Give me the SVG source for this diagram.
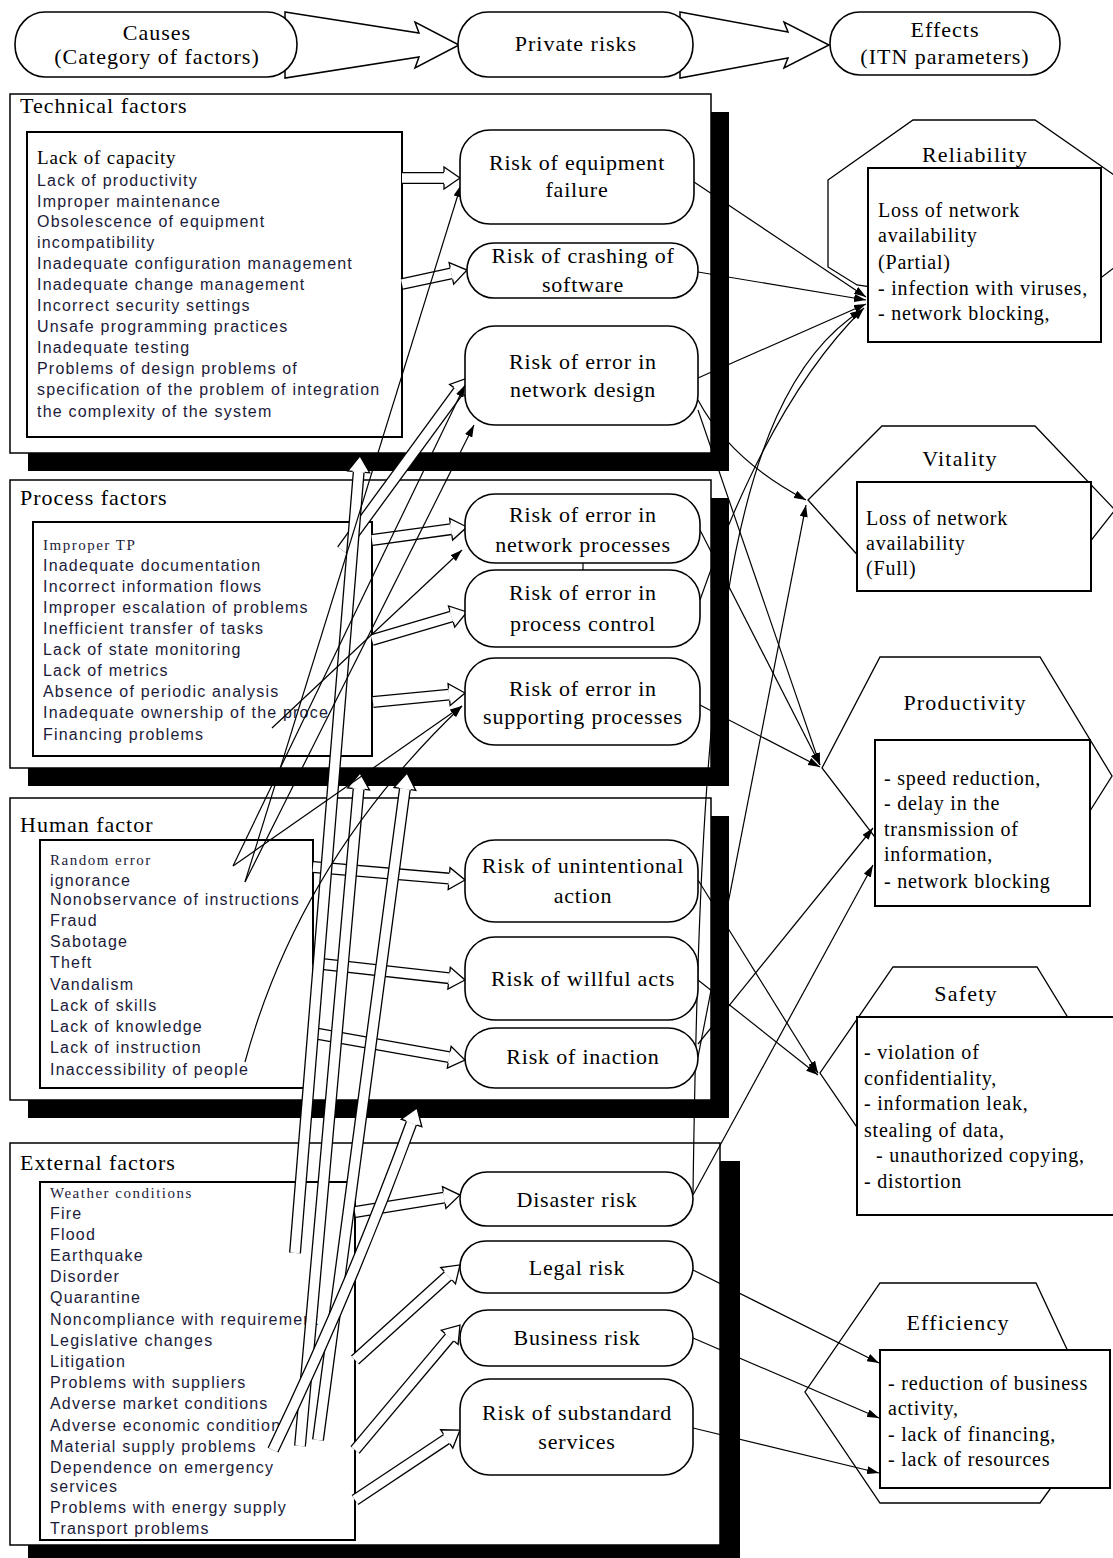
<svg xmlns="http://www.w3.org/2000/svg" width="1113" height="1558" viewBox="0 0 1113 1558">
<style>
.bg{fill:#fff}
.ser{font-family:"Liberation Serif","Times New Roman",serif;fill:#000}
.hd{font-size:22px;letter-spacing:1px}
.rk{font-size:22px;letter-spacing:0.8px;text-anchor:middle}
.ttl{font-size:22px;letter-spacing:1px}
.ef{font-size:20px;letter-spacing:0.8px}
.eft{font-size:22px;letter-spacing:1.2px;text-anchor:middle}
.sm{font-size:15px;letter-spacing:1.5px;fill:#1b1b3a}
.li{font-family:"Liberation Sans",Arial,sans-serif;font-size:16px;letter-spacing:1.2px;fill:#1b1b3a}
.box{fill:#fff;stroke:#000;stroke-width:1.5}
.inb{fill:#fff;stroke:#000;stroke-width:2}
.sh{fill:#000}
.rn{fill:#fff;stroke:#000;stroke-width:1.6}
.eo{fill:#fff;stroke:#000;stroke-width:1.3}
.hb{fill:none;stroke:#000;stroke-width:12}
.hw{fill:none;stroke:#fff;stroke-width:9.4}
.tl{fill:none;stroke:#000;stroke-width:1.2}
.ba{fill:#fff;stroke:#000;stroke-width:1.5}
</style>
<defs>
<marker id="ha" markerUnits="userSpaceOnUse" viewBox="0 0 17 24" markerWidth="17" markerHeight="24" refX="0" refY="12" orient="auto" overflow="visible">
<path d="M0,6 L0,1 L16,12 L0,23 L0,18" fill="#fff" stroke="#000" stroke-width="1.3"/>
</marker>
<marker id="ta" markerUnits="userSpaceOnUse" viewBox="0 0 12 8" markerWidth="12" markerHeight="8" refX="12" refY="4" orient="auto">
<path d="M0,0 L12,4 L0,8 z" fill="#000"/>
</marker>
</defs>
<rect class="bg" x="0" y="0" width="1113" height="1558"/>

<!-- header -->
<g id="header-arrows">
<polygon class="ba" points="285,12 419,33 415,22 459,45 415,68 419,57 285,78"/>
<polygon class="ba" points="680,12 788,32 784,22 829,45 784,68 788,58 680,78"/>
</g>
<g id="node-causes">
<rect class="rn" x="15" y="12" width="282" height="65" rx="30" ry="32"/>
<text class="ser hd" x="157" y="40" text-anchor="middle">Causes</text>
<text class="ser hd" x="157" y="64" text-anchor="middle">(Category of factors)</text>
</g>
<g id="node-private-risks">
<rect class="rn" x="458" y="12" width="235" height="65" rx="30" ry="32"/>
<text class="ser hd" x="576" y="51" text-anchor="middle">Private risks</text>
</g>
<g id="node-effects">
<rect class="rn" x="830" y="12" width="230" height="63" rx="30" ry="31"/>
<text class="ser hd" x="945" y="37" text-anchor="middle">Effects</text>
<text class="ser hd" x="945" y="64" text-anchor="middle">(ITN parameters)</text>
</g>

<!-- Technical factors -->
<g id="sec-technical">
<rect class="sh" x="28" y="112" width="701" height="359"/>
<rect class="box" x="10" y="94" width="701" height="359"/>
<text class="ser ttl" x="20" y="113">Technical factors</text>
<rect class="inb" x="27" y="132" width="375" height="305"/>
<text class="ser" x="37" y="164" style="font-size:19px;letter-spacing:0.8px">Lack of capacity</text>
<text class="li" x="37" y="186">Lack of productivity</text>
<text class="li" x="37" y="207">Improper maintenance</text>
<text class="li" x="37" y="227">Obsolescence of equipment</text>
<text class="li" x="37" y="248">incompatibility</text>
<text class="li" x="37" y="269">Inadequate configuration management</text>
<text class="li" x="37" y="290">Inadequate change management</text>
<text class="li" x="37" y="311">Incorrect security settings</text>
<text class="li" x="37" y="332">Unsafe programming practices</text>
<text class="li" x="37" y="353">Inadequate testing</text>
<text class="li" x="37" y="374">Problems of design problems of</text>
<text class="li" x="37" y="395">specification of the problem of integration</text>
<text class="li" x="37" y="417">the complexity of the system</text>
</g>

<!-- Process factors -->
<g id="sec-process">
<rect class="sh" x="28" y="498" width="701" height="288"/>
<rect class="box" x="10" y="480" width="701" height="288"/>
<text class="ser ttl" x="20" y="505">Process factors</text>
<rect class="inb" x="33" y="522" width="339" height="234"/>
<text class="ser sm" x="43" y="550">Improper TP</text>
<text class="li" x="43" y="571">Inadequate documentation</text>
<text class="li" x="43" y="592">Incorrect information flows</text>
<text class="li" x="43" y="613">Improper escalation of problems</text>
<text class="li" x="43" y="634">Inefficient transfer of tasks</text>
<text class="li" x="43" y="655">Lack of state monitoring</text>
<text class="li" x="43" y="676">Lack of metrics</text>
<text class="li" x="43" y="697">Absence of periodic analysis</text>
<text class="li" x="43" y="718">Inadequate ownership of the proce</text>
<text class="li" x="43" y="740">Financing problems</text>
</g>

<!-- Human factor -->
<g id="sec-human">
<rect class="sh" x="28" y="816" width="701" height="302"/>
<rect class="box" x="10" y="798" width="701" height="302"/>
<text class="ser ttl" x="20" y="832">Human factor</text>
<rect class="inb" x="40" y="840" width="273" height="248"/>
<text class="ser sm" x="50" y="865">Random error</text>
<text class="li" x="50" y="886">ignorance</text>
<text class="li" x="50" y="905">Nonobservance of instructions</text>
<text class="li" x="50" y="926">Fraud</text>
<text class="li" x="50" y="947">Sabotage</text>
<text class="li" x="50" y="968">Theft</text>
<text class="li" x="50" y="990">Vandalism</text>
<text class="li" x="50" y="1011">Lack of skills</text>
<text class="li" x="50" y="1032">Lack of knowledge</text>
<text class="li" x="50" y="1053">Lack of instruction</text>
<text class="li" x="50" y="1075">Inaccessibility of people</text>
</g>

<!-- External factors -->
<g id="sec-external">
<rect class="sh" x="28" y="1161" width="712" height="410"/>
<rect class="box" x="10" y="1143" width="710" height="402"/>
<text class="ser ttl" x="20" y="1170">External factors</text>
<rect class="inb" x="40" y="1182" width="315" height="358"/>
<text class="ser sm" x="50" y="1198">Weather conditions</text>
<text class="li" x="50" y="1219">Fire</text>
<text class="li" x="50" y="1240">Flood</text>
<text class="li" x="50" y="1261">Earthquake</text>
<text class="li" x="50" y="1282">Disorder</text>
<text class="li" x="50" y="1303">Quarantine</text>
<text class="li" x="50" y="1325">Noncompliance with requirement</text>
<text class="li" x="50" y="1346">Legislative changes</text>
<text class="li" x="50" y="1367">Litigation</text>
<text class="li" x="50" y="1388">Problems with suppliers</text>
<text class="li" x="50" y="1409">Adverse market conditions</text>
<text class="li" x="50" y="1431">Adverse economic condition</text>
<text class="li" x="50" y="1452">Material supply problems</text>
<text class="li" x="50" y="1473">Dependence on emergency</text>
<text class="li" x="50" y="1492">services</text>
<text class="li" x="50" y="1513">Problems with energy supply</text>
<text class="li" x="50" y="1534">Transport problems</text>
</g>

<!-- effect nodes -->
<g id="effect-reliability">
<polygon class="eo" points="828,180 913,120 1035,120 1150,200 1150,240 1102,277 960,300 857,285 828,267"/>
<text class="ser eft" x="975" y="162">Reliability</text>
<rect class="inb" x="868" y="168" width="233" height="174"/>
<text class="ser ef" x="878" y="217">Loss of network</text>
<text class="ser ef" x="878" y="242">availability</text>
<text class="ser ef" x="878" y="269">(Partial)</text>
<text class="ser ef" x="878" y="295">- infection with viruses,</text>
<text class="ser ef" x="878" y="320">- network blocking,</text>
</g>
<g id="effect-vitality">
<polygon class="eo" points="882,426 1035,426 1115,510 1060,580 880,580 808,500"/>
<text class="ser eft" x="960" y="466">Vitality</text>
<rect class="inb" x="857" y="482" width="234" height="109"/>
<text class="ser ef" x="866" y="525">Loss of network</text>
<text class="ser ef" x="866" y="550">availability</text>
<text class="ser ef" x="866" y="575">(Full)</text>
</g>
<g id="effect-productivity">
<polygon class="eo" points="880,657 1040,657 1112,776 1040,890 900,870 822,768"/>
<text class="ser eft" x="965" y="710">Productivity</text>
<rect class="inb" x="875" y="740" width="215" height="166"/>
<text class="ser ef" x="884" y="785">- speed reduction,</text>
<text class="ser ef" x="884" y="810">- delay in the</text>
<text class="ser ef" x="884" y="836">transmission of</text>
<text class="ser ef" x="884" y="861">information,</text>
<text class="ser ef" x="884" y="888">- network blocking</text>
</g>
<g id="effect-safety">
<polygon class="eo" points="893,967 1037,967 1100,1070 1037,1180 893,1180 820,1073"/>
<text class="ser eft" x="966" y="1001">Safety</text>
<rect class="inb" x="857" y="1017" width="270" height="198"/>
<text class="ser ef" x="864" y="1059">- violation of</text>
<text class="ser ef" x="864" y="1085">confidentiality,</text>
<text class="ser ef" x="864" y="1110">- information leak,</text>
<text class="ser ef" x="864" y="1137">stealing of data,</text>
<text class="ser ef" x="876" y="1162">- unauthorized copying,</text>
<text class="ser ef" x="864" y="1188">- distortion</text>
</g>
<g id="effect-efficiency">
<polygon class="eo" points="880,1283 1036,1283 1100,1420 1040,1503 880,1503 805,1392"/>
<text class="ser eft" x="958" y="1330">Efficiency</text>
<rect class="inb" x="880" y="1350" width="230" height="138"/>
<text class="ser ef" x="888" y="1390">- reduction of business</text>
<text class="ser ef" x="888" y="1415">activity,</text>
<text class="ser ef" x="888" y="1441">- lack of financing,</text>
<text class="ser ef" x="888" y="1466">- lack of resources</text>
</g>

<!-- connectors -->
<g id="connectors">
<path class="hb" d="M402,178 L444,178"/><path class="hw" d="M402,178 L444,178" marker-end="url(#ha)"/>
<path class="hb" d="M402,284 L451.4,273.4"/><path class="hw" d="M402,284 L451.4,273.4" marker-end="url(#ha)"/>
<path class="hb" d="M372,540 L451.1,529.2"/><path class="hw" d="M372,540 L451.1,529.2" marker-end="url(#ha)"/>
<path class="hb" d="M372,640 L451.6,616.5"/><path class="hw" d="M372,640 L451.6,616.5" marker-end="url(#ha)"/>
<path class="hb" d="M373,702 L449.1,694.6"/><path class="hw" d="M373,702 L449.1,694.6" marker-end="url(#ha)"/>
<path class="hb" d="M342,550 L458.5,390.9"/><path class="hw" d="M342,550 L458.5,390.9" marker-end="url(#ha)"/>
<path class="hb" d="M313,867 L449.1,878.6"/><path class="hw" d="M313,867 L449.1,878.6" marker-end="url(#ha)"/>
<path class="hb" d="M313,963 L449.1,978.2"/><path class="hw" d="M313,963 L449.1,978.2" marker-end="url(#ha)"/>
<path class="hb" d="M313,1033 L449.2,1057.2"/><path class="hw" d="M313,1033 L449.2,1057.2" marker-end="url(#ha)"/>
<path class="hb" d="M355,1212 L444.2,1197.6"/><path class="hw" d="M355,1212 L444.2,1197.6" marker-end="url(#ha)"/>
<path class="hb" d="M355,1360 L448.1,1275.7"/><path class="hw" d="M355,1360 L448.1,1275.7" marker-end="url(#ha)"/>
<path class="hb" d="M355,1450 L449.7,1337.3"/><path class="hw" d="M355,1450 L449.7,1337.3" marker-end="url(#ha)"/>
<path class="hb" d="M355,1500 L446.7,1438.9"/><path class="hw" d="M355,1500 L446.7,1438.9" marker-end="url(#ha)"/>
<path class="hb" d="M295,1253 L358.7,471.9"/><path class="hw" d="M295,1253 L358.7,471.9" marker-end="url(#ha)"/>
<path class="hb" d="M300,1446 L358.6,788.9"/><path class="hw" d="M300,1446 L358.6,788.9" marker-end="url(#ha)"/>
<path class="hb" d="M318,1440 L404.9,788.9"/><path class="hw" d="M318,1440 L404.9,788.9" marker-end="url(#ha)"/>
<path class="hb" d="M273,1450 Q350,1290 411.5,1123"/><path class="hw" d="M273,1450 Q350,1290 411.5,1123" marker-end="url(#ha)"/>

<path class="tl" d="M233,866 L465,385" marker-end="url(#ta)"/>
<path class="tl" d="M245,882 L461,185" marker-end="url(#ta)"/>
<path class="tl" d="M272,728 L462,550" marker-end="url(#ta)"/>
<path class="tl" d="M245,1062 Q300,860 462,706" marker-end="url(#ta)"/>
<path class="tl" d="M233,866 L462,706" marker-end="url(#ta)"/>
<path class="tl" d="M245,882 L474,425" marker-end="url(#ta)"/>

<path class="tl" d="M694,182 L866,297" marker-end="url(#ta)"/>
<path class="tl" d="M698,272 L866,300" marker-end="url(#ta)"/>
<path class="tl" d="M698,378 L866,304" marker-end="url(#ta)"/>
<path class="tl" d="M700,600 Q770,400 864,308" marker-end="url(#ta)"/>
<path class="tl" d="M693,1193 C700,700 720,400 862,310" marker-end="url(#ta)"/>
<path class="tl" d="M698,400 Q730,460 806,500" marker-end="url(#ta)"/>
<path class="tl" d="M698,1057 L806,505" marker-end="url(#ta)"/>
<path class="tl" d="M698,410 L820,765" marker-end="url(#ta)"/>
<path class="tl" d="M700,530 L820,765" marker-end="url(#ta)"/>
<path class="tl" d="M700,705 L820,767" marker-end="url(#ta)"/>
<path class="tl" d="M698,1044 L873,828" marker-end="url(#ta)"/>
<path class="tl" d="M693,1195 L873,865" marker-end="url(#ta)"/>
<path class="tl" d="M698,880 L818,1073" marker-end="url(#ta)"/>
<path class="tl" d="M698,980 L818,1075" marker-end="url(#ta)"/>
<path class="tl" d="M693,1270 L879,1363" marker-end="url(#ta)"/>
<path class="tl" d="M693,1338 L879,1418" marker-end="url(#ta)"/>
<path class="tl" d="M693,1428 L879,1473" marker-end="url(#ta)"/>
<path class="tl" d="M583,563 L583,570"/>
</g>

<!-- risk nodes -->
<g id="risk-equipment-failure">
<rect class="rn" x="460" y="130" width="234" height="94" rx="30"/>
<text class="ser rk" x="577" y="170">Risk of equipment</text>
<text class="ser rk" x="577" y="197">failure</text>
</g>
<g id="risk-crashing-software">
<rect class="rn" x="467" y="243" width="231" height="55" rx="27"/>
<text class="ser rk" x="583" y="263">Risk of crashing of</text>
<text class="ser rk" x="583" y="292">software</text>
</g>
<g id="risk-network-design">
<rect class="rn" x="465" y="326" width="233" height="99" rx="30"/>
<text class="ser rk" x="583" y="369">Risk of error in</text>
<text class="ser rk" x="583" y="397">network design</text>
</g>
<g id="risk-network-processes">
<rect class="rn" x="465" y="494" width="235" height="69" rx="30"/>
<text class="ser rk" x="583" y="522">Risk of error in</text>
<text class="ser rk" x="583" y="552">network processes</text>
</g>
<g id="risk-process-control">
<rect class="rn" x="465" y="570" width="235" height="77" rx="30"/>
<text class="ser rk" x="583" y="600">Risk of error in</text>
<text class="ser rk" x="583" y="631">process control</text>
</g>
<g id="risk-supporting-processes">
<rect class="rn" x="465" y="658" width="235" height="87" rx="30"/>
<text class="ser rk" x="583" y="696">Risk of error in</text>
<text class="ser rk" x="583" y="724">supporting processes</text>
</g>
<g id="risk-unintentional">
<rect class="rn" x="465" y="840" width="233" height="82" rx="30"/>
<text class="ser rk" x="583" y="873">Risk of unintentional</text>
<text class="ser rk" x="583" y="903">action</text>
</g>
<g id="risk-willful">
<rect class="rn" x="465" y="937" width="233" height="83" rx="30"/>
<text class="ser rk" x="583" y="986">Risk of willful acts</text>
</g>
<g id="risk-inaction">
<rect class="rn" x="465" y="1028" width="233" height="60" rx="30"/>
<text class="ser rk" x="583" y="1064">Risk of inaction</text>
</g>
<g id="risk-disaster">
<rect class="rn" x="460" y="1172" width="233" height="54" rx="27"/>
<text class="ser rk" x="577" y="1207">Disaster risk</text>
</g>
<g id="risk-legal">
<rect class="rn" x="460" y="1241" width="233" height="52" rx="26"/>
<text class="ser rk" x="577" y="1275">Legal risk</text>
</g>
<g id="risk-business">
<rect class="rn" x="460" y="1310" width="233" height="56" rx="28"/>
<text class="ser rk" x="577" y="1345">Business risk</text>
</g>
<g id="risk-substandard">
<rect class="rn" x="460" y="1379" width="233" height="96" rx="30"/>
<text class="ser rk" x="577" y="1420">Risk of substandard</text>
<text class="ser rk" x="577" y="1449">services</text>
</g>
</svg>
